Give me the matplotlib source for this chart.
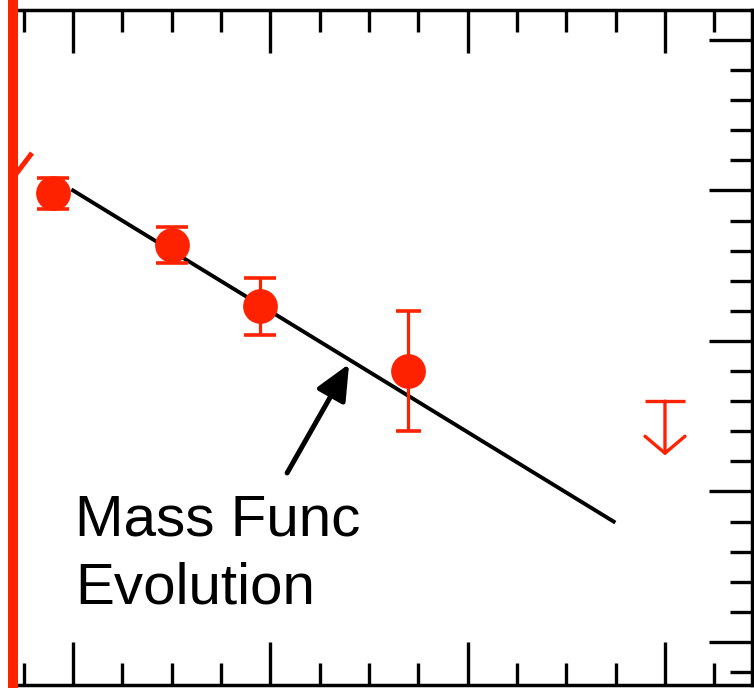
import matplotlib
matplotlib.use("Agg")
import matplotlib.pyplot as plt
from matplotlib.ticker import MultipleLocator, NullFormatter

# ---- data ----
x_pts = [0.90, 1.50, 1.95, 2.70]
y_pts = [2.98, 2.64, 2.23, 1.80]
y_err = [0.10, 0.12, 0.19, 0.40]
cap_pts = [11.5, 11.5, 11.5, 9.0]

ul_x = 4.0
ul_y = 1.60
ul_len = 0.36

fit_x = [1.00, 3.74]
fit_y = [3.00, 0.80]

label_text = "Mass Func\nEvolution"
label_pos = (1.01, 0.259)
arrow_tail = (2.085, 1.123)
arrow_tip = (2.399, 1.847)

RED = "#ff2200"

fig = plt.figure(figsize=(7.54, 6.88), dpi=100)
ax = fig.add_axes([17 / 754, 3 / 688, 735 / 754, 675 / 688])
ax.set_xlim(0.716, 4.441)
ax.set_ylim(-0.2857, 4.199)

# spines & ticks
for s in ["top", "right", "bottom"]:
    ax.spines[s].set_linewidth(2.5)
ax.spines["left"].set_visible(False)
ax.xaxis.set_major_locator(MultipleLocator(1.0))
ax.xaxis.set_minor_locator(MultipleLocator(0.25))
ax.yaxis.set_major_locator(MultipleLocator(1.0))
ax.yaxis.set_minor_locator(MultipleLocator(0.2))
ax.xaxis.set_major_formatter(NullFormatter())
ax.yaxis.set_major_formatter(NullFormatter())
ax.tick_params(which="both", direction="in", top=True, bottom=True,
               left=False, right=True, labelleft=False, labelbottom=False,
               width=2.4, color="black")
ax.tick_params(which="major", length=31)
ax.tick_params(which="minor", length=15.5)

# fit line
ax.plot(fit_x, fit_y, color="black", lw=2.8, zorder=2)

# data points with error bars
for xi, yi, ei, ci in zip(x_pts, y_pts, y_err, cap_pts):
    ax.errorbar([xi], [yi], yerr=[ei], fmt="o", color=RED, ms=24,
                mec=RED, ecolor=RED, elinewidth=2.3, capsize=ci,
                capthick=2.6, zorder=3)

# upper limit
ax.errorbar([ul_x], [ul_y], xerr=[0.1], fmt="none", ecolor=RED,
            elinewidth=2.4, capsize=0, zorder=3)
ax.annotate("", xy=(ul_x, ul_y - ul_len), xytext=(ul_x, ul_y),
            arrowprops=dict(arrowstyle="->,head_length=0.61,head_width=0.72",
                            color=RED, lw=2.4, shrinkA=0, shrinkB=0,
                            mutation_scale=20), zorder=3)

# label and arrow
ax.text(label_pos[0], label_pos[1], label_text, fontsize=42,
        family="Liberation Sans", ha="left", va="baseline",
        linespacing=1.31, color="black")
ax.annotate("", xy=arrow_tip, xytext=arrow_tail,
            arrowprops=dict(arrowstyle="-|>,head_length=1.08,head_width=0.49",
                            color="black", lw=3.6, shrinkA=0, shrinkB=0,
                            mutation_scale=20))

# red lines at the left edge (from neighbouring panel)
fig.add_artist(plt.Line2D([13 / 754, 13 / 754], [0, 1], color=RED, lw=7.2,
                          transform=fig.transFigure, solid_capstyle="butt"))
fig.add_artist(plt.Line2D([16 / 754, 32 / 754], [1 - 174 / 688, 1 - 153 / 688],
                          color=RED, lw=3.6, transform=fig.transFigure,
                          solid_capstyle="butt"))

fig.savefig("out.png", dpi=100)
